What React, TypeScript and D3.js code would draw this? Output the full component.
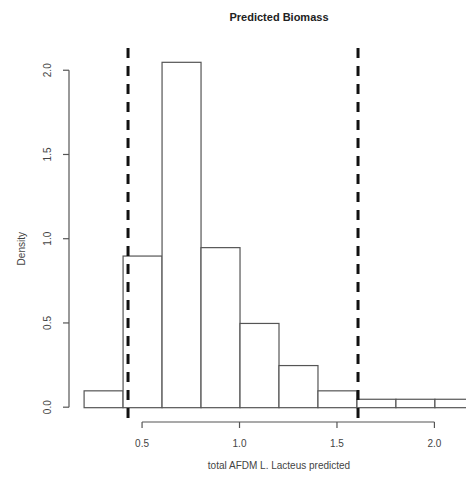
import React, { useEffect, useRef } from 'react'
import * as d3 from 'd3'

// histogram bins (left edge, right edge) and density
const binStarts = [0.2, 0.4, 0.6, 0.8, 1.0, 1.2, 1.4, 1.6, 1.8, 2.0]
const binWidth = 0.2
const densities = [0.1, 0.9, 2.05, 0.95, 0.5, 0.25, 0.1, 0.05, 0.05, 0.05]
const xTicks = [0.5, 1.0, 1.5, 2.0]
const yTicks = [0.0, 0.5, 1.0, 1.5, 2.0]
const cutoffs = [0.428, 1.608]

const W = 466
const H = 482

export default function App() {
  const ref = useRef<SVGSVGElement>(null)

  useEffect(() => {
    const svg = d3.select(ref.current)
    svg.selectAll('*').remove()

    const x = d3.scaleLinear().domain([0.12, 2.28]).range([68, 489])
    const y = d3.scaleLinear().domain([-0.082, 2.132]).range([421, 48])
    const axisCol = '#555'
    const font = 'Liberation Sans, Arial, sans-serif'

    const data = binStarts.map((b, i) => ({ x0: b, x1: b + binWidth, d: densities[i] }))

    svg.append('g')
      .selectAll('rect')
      .data(data)
      .enter()
      .append('rect')
      .attr('x', d => x(d.x0) + 0.5)
      .attr('y', d => y(d.d) + 0.5)
      .attr('width', d => x(d.x1) - x(d.x0))
      .attr('height', d => y(0) - y(d.d))
      .attr('fill', 'white')
      .attr('stroke', axisCol)
      .attr('stroke-width', 1.2)

    // dashed cutoff lines
    svg.selectAll('line.cut')
      .data(cutoffs)
      .enter()
      .append('line')
      .attr('class', 'cut')
      .attr('x1', d => x(d))
      .attr('x2', d => x(d))
      .attr('y1', y.range()[1])
      .attr('y2', y.range()[0])
      .attr('stroke', '#111')
      .attr('stroke-width', 3)
      .attr('stroke-dasharray', '10,8')

    // x axis
    const xa = svg.append('g').attr('transform', 'translate(0,422)')
    xa.append('line')
      .attr('x1', x(xTicks[0])).attr('x2', x(xTicks[xTicks.length - 1]))
      .attr('stroke', axisCol).attr('stroke-width', 1.2)
    xa.selectAll('line.t').data(xTicks).enter().append('line')
      .attr('class', 't')
      .attr('x1', d => x(d)).attr('x2', d => x(d))
      .attr('y1', 0).attr('y2', 6)
      .attr('stroke', axisCol).attr('stroke-width', 1.2)
    xa.selectAll('text').data(xTicks).enter().append('text')
      .attr('x', d => x(d)).attr('y', 25)
      .attr('text-anchor', 'middle')
      .attr('font-family', font).attr('font-size', 10)
      .attr('fill', '#444')
      .text(d => d3.format('.1f')(d))

    // y axis
    const ya = svg.append('g').attr('transform', 'translate(69,0)')
    ya.append('line')
      .attr('y1', y(yTicks[0])).attr('y2', y(yTicks[yTicks.length - 1]))
      .attr('stroke', axisCol).attr('stroke-width', 1.2)
    ya.selectAll('line.t').data(yTicks).enter().append('line')
      .attr('class', 't')
      .attr('y1', d => y(d)).attr('y2', d => y(d))
      .attr('x1', 0).attr('x2', -6)
      .attr('stroke', axisCol).attr('stroke-width', 1.2)
    ya.selectAll('text').data(yTicks).enter().append('text')
      .attr('transform', d => `translate(-18,${y(d)}) rotate(-90)`)
      .attr('text-anchor', 'middle')
      .attr('font-family', font).attr('font-size', 10)
      .attr('fill', '#444')
      .text(d => d3.format('.1f')(d))

    svg.append('text')
      .attr('transform', `translate(25,${y(1.0) + 10}) rotate(-90)`)
      .attr('text-anchor', 'middle')
      .attr('font-family', font).attr('font-size', 10)
      .attr('fill', '#444')
      .text('Density')

    svg.append('text')
      .attr('x', 279).attr('y', 469)
      .attr('text-anchor', 'middle')
      .attr('font-family', font).attr('font-size', 10)
      .attr('fill', '#444')
      .text('total AFDM L. Lacteus predicted')

    svg.append('text')
      .attr('x', 279).attr('y', 21)
      .attr('text-anchor', 'middle')
      .attr('font-family', font).attr('font-size', 11)
      .attr('font-weight', 'bold')
      .attr('fill', '#222')
      .text('Predicted Biomass')
  }, [])

  return (
    <svg ref={ref} width={W} height={H}
      style={{ position: 'absolute', left: 0, top: 0, background: 'white' }} />
  )
}
